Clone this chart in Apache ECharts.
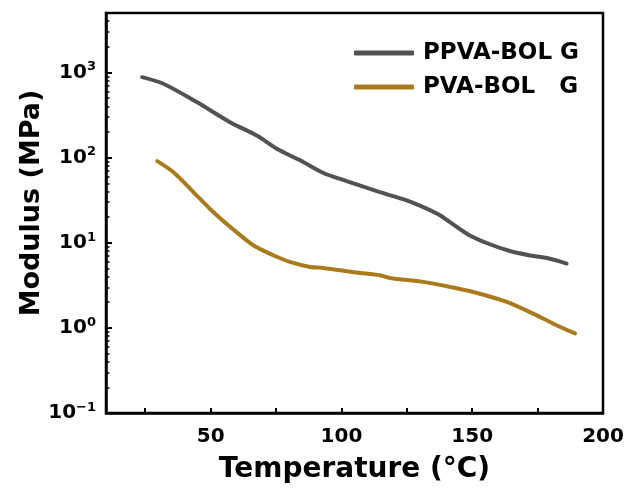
<!DOCTYPE html>
<html>
<head>
<meta charset="utf-8">
<script src="https://cdn.jsdelivr.net/npm/echarts@6/dist/echarts.min.js"></script>
<style>
  html, body { margin: 0; padding: 0; background: #fff; }
  #chart { width: 627px; height: 490px; }
</style>
</head>
<body>
<div id="chart"></div>
<script>
// Storage modulus vs temperature for the two samples
const seriesNames = ['PPVA-BOL G', 'PVA-BOL   G'];

const ppvaTemp = [23.8, 31.9, 44.7, 57.4, 67.6, 75.3, 84.2, 93.1, 102.0, 114.7,
                  124.9, 132.6, 137.7, 141.5, 149.1, 156.8, 164.4, 172.1, 179.7, 186.1];
const ppvaModulus = [881, 737, 449, 261, 182, 127, 92.9, 65.9, 53.1, 39.4,
                     31.5, 25.2, 21.0, 17.5, 12.2, 9.6, 8.0, 7.1, 6.5, 5.7];

const pvaTemp = [29.6, 35.7, 43.4, 51.0, 58.7, 66.3, 74.0, 80.3, 88.0, 93.1,
                 105.8, 114.7, 118.6, 131.3, 141.5, 150.4, 163.2, 173.3, 181.0, 189.3];
const pvaModulus = [91, 67.6, 39.4, 23.0, 14.3, 9.35, 7.13, 5.96, 5.20, 5.05,
                    4.47, 4.15, 3.86, 3.47, 3.03, 2.64, 2.02, 1.47, 1.12, 0.86];

const xTickValues = [25, 50, 75, 100, 125, 150, 175, 200];
const xLabelValues = [50, 100, 150, 200];
const yMin = 0.1, yMax = 5000;
const yMinorValues = [0.2, 0.3, 0.4, 0.5, 0.6, 0.7, 0.8, 0.9,
                      2, 3, 4, 5, 6, 7, 8, 9,
                      20, 30, 40, 50, 60, 70, 80, 90,
                      200, 300, 400, 500, 600, 700, 800, 900,
                      2000, 3000, 4000, 5000];

const FONT = 'DejaVu Sans';
const GRAY = '#525252';
const GOLD = '#a97b1c';
const pair = (xs, ys) => xs.map((x, i) => [x, ys[i]]);

const chart = echarts.init(document.getElementById('chart'), null, { renderer: 'canvas' });

chart.setOption({
  backgroundColor: '#fff',
  animation: false,
  grid: {
    left: 106, right: 24, top: 13, bottom: 77,
    show: true, borderColor: '#000', borderWidth: 2.5
  },
  legend: {
    orient: 'vertical',
    left: 349, top: 36,
    icon: 'roundRect',
    itemWidth: 60, itemHeight: 5, itemGap: 10,
    data: seriesNames,
    textStyle: {
      fontFamily: FONT, fontWeight: 'bold', fontSize: 23, color: '#000',
      lineHeight: 24, padding: [0, 0, 0, 4]
    }
  },
  xAxis: {
    type: 'value',
    min: 10, max: 200,
    name: 'Temperature (°C)',
    nameLocation: 'middle',
    nameGap: 43,
    nameTextStyle: { fontFamily: FONT, fontWeight: 'bold', fontSize: 28, color: '#000' },
    axisLine: { show: true, onZero: false, lineStyle: { color: '#000', width: 2.5 } },
    axisTick: { show: true, inside: true, length: 5, lineStyle: { color: '#000', width: 2 },
                customValues: xTickValues },
    axisLabel: { fontFamily: FONT, fontWeight: 'bold', fontSize: 20, color: '#000',
                 margin: 14, customValues: xLabelValues },
    splitLine: { show: false }
  },
  yAxis: [
    {
      type: 'log',
      logBase: 10,
      min: yMin, max: yMax,
      interval: 1,
      name: 'Modulus (MPa)',
      nameLocation: 'middle',
      nameGap: 61,
      nameMoveOverlap: false,
      nameRotate: 90,
      nameTextStyle: { fontFamily: FONT, fontWeight: 'bold', fontSize: 27, color: '#000',
                       padding: [0, 0, 0, 20] },
      axisLine: { show: true, lineStyle: { color: '#000', width: 2.5 } },
      axisTick: { show: true, inside: true, length: 6, lineStyle: { color: '#000', width: 2 } },
      axisLabel: {
        margin: 10,
        showMaxLabel: false,
        formatter: function (v) {
          const e = Math.log10(v);
          const r = Math.round(e);
          if (Math.abs(e - r) > 1e-6) return '';
          const exp = r < 0 ? '\u2212' + Math.abs(r) : String(r);
          return '{b|10}{s|' + exp + '}';
        },
        rich: {
          b: { fontFamily: FONT, fontWeight: 'bold', fontSize: 20, color: '#000', lineHeight: 24 },
          s: { fontFamily: FONT, fontWeight: 'bold', fontSize: 13, color: '#000',
               lineHeight: 13, verticalAlign: 'top', padding: [0, 0, 10, 0] }
        }
      },
      splitLine: { show: false }
    },
    {
      // overlay axis carrying the 2..9 minor ticks of each decade (log10 space)
      type: 'value',
      min: Math.log10(yMin), max: Math.log10(yMax),
      position: 'left',
      axisLine: { show: false },
      axisLabel: { show: false },
      splitLine: { show: false },
      axisTick: { show: true, inside: true, length: 3.5, lineStyle: { color: '#000', width: 1.5 },
                  customValues: yMinorValues.map(v => Math.log10(v)) }
    }
  ],
  series: [
    {
      name: seriesNames[0],
      type: 'line',
      yAxisIndex: 0,
      data: pair(ppvaTemp, ppvaModulus),
      smooth: 0.3,
      symbol: 'none',
      lineStyle: { color: GRAY, width: 4, cap: 'round' },
      itemStyle: { color: GRAY }
    },
    {
      name: seriesNames[1],
      type: 'line',
      yAxisIndex: 0,
      data: pair(pvaTemp, pvaModulus),
      smooth: 0.3,
      symbol: 'none',
      lineStyle: { color: GOLD, width: 4, cap: 'round' },
      itemStyle: { color: GOLD }
    }
  ]
});
</script>
</body>
</html>
